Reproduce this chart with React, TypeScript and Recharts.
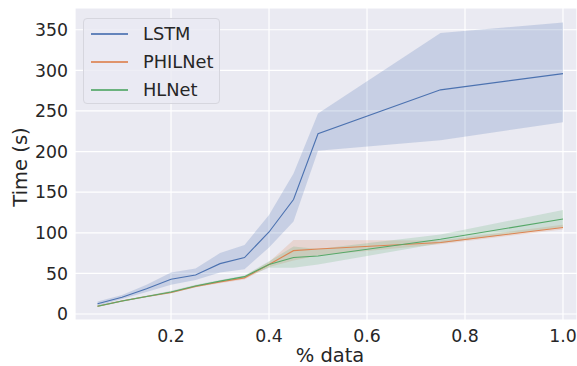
import React from "react";
import { ComposedChart, Line, Area, XAxis, YAxis, CartesianGrid, Legend } from "recharts";

// fraction of the training data used
const fractions = [0.05, 0.1, 0.15, 0.2, 0.25, 0.3, 0.35, 0.4, 0.45, 0.5, 0.75, 1.0];

const seriesNames = ["LSTM", "PHILNet", "HLNet"];

const lstmMean = [12.5, 20.5, 31, 42.7, 48, 62, 69.5, 101, 141, 222, 276, 296];
const lstmLow = [10, 18.5, 27, 36, 42, 51, 55, 82, 114, 201, 214, 236];
const lstmHigh = [15.5, 23.5, 36, 51, 56, 75, 85, 122, 173, 247, 346, 359];

const philMean = [9.5, 16, 21.5, 26.5, 34, 39.5, 44.5, 61, 78, 80, 88, 106.5];
const philLow = [8.5, 15, 20.5, 25.5, 33, 38, 42.5, 58, 66, 72, 86, 104];
const philHigh = [10.5, 17, 22.5, 28, 35.5, 41, 46.5, 64, 91, 91, 90.5, 110];

const hlMean = [9.5, 16, 21.5, 27, 34.5, 40.5, 46, 61, 69.5, 71.5, 92, 117];
const hlLow = [8.5, 15, 20.5, 25.5, 33, 39, 44.5, 57, 57, 61, 87, 107];
const hlHigh = [10.5, 17, 22.5, 28.5, 36, 42, 47.5, 65, 83, 80, 98, 128];

const xTicks = [0.2, 0.4, 0.6, 0.8, 1.0];
const yTicks = [0, 50, 100, 150, 200, 250, 300, 350];

const BLUE = "#4C72B0";
const ORANGE = "#DD8452";
const GREEN = "#55A868";
const TEXT = "#262626";
const FONT = "DejaVu Sans, sans-serif";

const data = fractions.map((x, i) => ({
    x,
    lstm: lstmMean[i],
    lstmBand: [lstmLow[i], lstmHigh[i]],
    phil: philMean[i],
    philBand: [philLow[i], philHigh[i]],
    hl: hlMean[i],
    hlBand: [hlLow[i], hlHigh[i]],
}));

const tickStyle = { fontSize: 17.3, fill: TEXT, fontFamily: FONT };

function YLabel(props: any) {
    const vb = props.viewBox;
    const cx = vb.x + 20;
    const cy = vb.y + vb.height / 2 + 3;
    return (
        <text x={cx} y={cy} transform={`rotate(-90, ${cx}, ${cy})`} textAnchor="middle"
            dominantBaseline="central" fontSize={19.5} fill={TEXT} fontFamily={FONT}>
            Time (s)
        </text>
    );
}

function XLabel(props: any) {
    const vb = props.viewBox;
    return (
        <text x={vb.x + vb.width / 2 + 4} y={362} textAnchor="middle"
            fontSize={19.5} fill={TEXT} fontFamily={FONT}>
            % data
        </text>
    );
}

function LegendBox(props: any) {
    const items = (props.payload || [])
        .filter((p: any) => p.type !== "none")
        .sort((a: any, b: any) => seriesNames.indexOf(a.value) - seriesNames.indexOf(b.value));
    return (
        <div style={{
            width: 137, height: 86, boxSizing: "border-box", borderRadius: 4,
            border: "1px solid #d6d6de", background: "rgba(234,234,242,0.8)",
            padding: "1px 0 0 0", fontFamily: FONT, fontSize: 17.8, color: TEXT,
        }}>
            {items.map((p: any) => (
                <div key={p.value} style={{ display: "flex", alignItems: "center", height: 28 }}>
                    <div style={{ marginLeft: 7, width: 37, height: 1.2, background: p.color, opacity: 0.85 }} />
                    <span style={{ marginLeft: 15, lineHeight: "28px" }}>{p.value}</span>
                </div>
            ))}
        </div>
    );
}

export default function App() {
    return (
        <div style={{ position: "absolute", left: 0, top: 0, background: "#fff" }}>
            <ComposedChart width={577} height={366} data={data}
                margin={{ top: 8, right: 0, bottom: 0, left: 0 }}>
                <CartesianGrid fill="#EAEAF2" stroke="#ffffff" strokeWidth={1.2} />
                <XAxis dataKey="x" type="number" domain={[0.004, 1.0286]} allowDataOverflow
                    ticks={xTicks} tickFormatter={(v: number) => v.toFixed(1)}
                    axisLine={false} tickLine={false} tickSize={6} tickMargin={4}
                    height={46} tick={tickStyle} label={<XLabel />} />
                <YAxis type="number" domain={[-7.4, 376.8]} allowDataOverflow ticks={yTicks}
                    axisLine={false} tickLine={false} tickSize={5} tickMargin={2}
                    width={75} tick={tickStyle} label={<YLabel />} />
                <Area dataKey="lstmBand" stroke="none" fill={BLUE} fillOpacity={0.22}
                    legendType="none" isAnimationActive={false} />
                <Area dataKey="philBand" stroke="none" fill={ORANGE} fillOpacity={0.2}
                    legendType="none" isAnimationActive={false} />
                <Area dataKey="hlBand" stroke="none" fill={GREEN} fillOpacity={0.2}
                    legendType="none" isAnimationActive={false} />
                <Line dataKey="lstm" name="LSTM" stroke={BLUE} strokeWidth={1.1} dot={false}
                    isAnimationActive={false} />
                <Line dataKey="phil" name="PHILNet" stroke={ORANGE} strokeWidth={1.1} dot={false}
                    isAnimationActive={false} />
                <Line dataKey="hl" name="HLNet" stroke={GREEN} strokeWidth={1.1} dot={false}
                    isAnimationActive={false} />
                <Legend layout="vertical" align="center" verticalAlign="middle"
                    content={<LegendBox />}
                    wrapperStyle={{ position: "absolute", left: 83, top: 18, width: 137, height: 86 }} />
            </ComposedChart>
        </div>
    );
}
